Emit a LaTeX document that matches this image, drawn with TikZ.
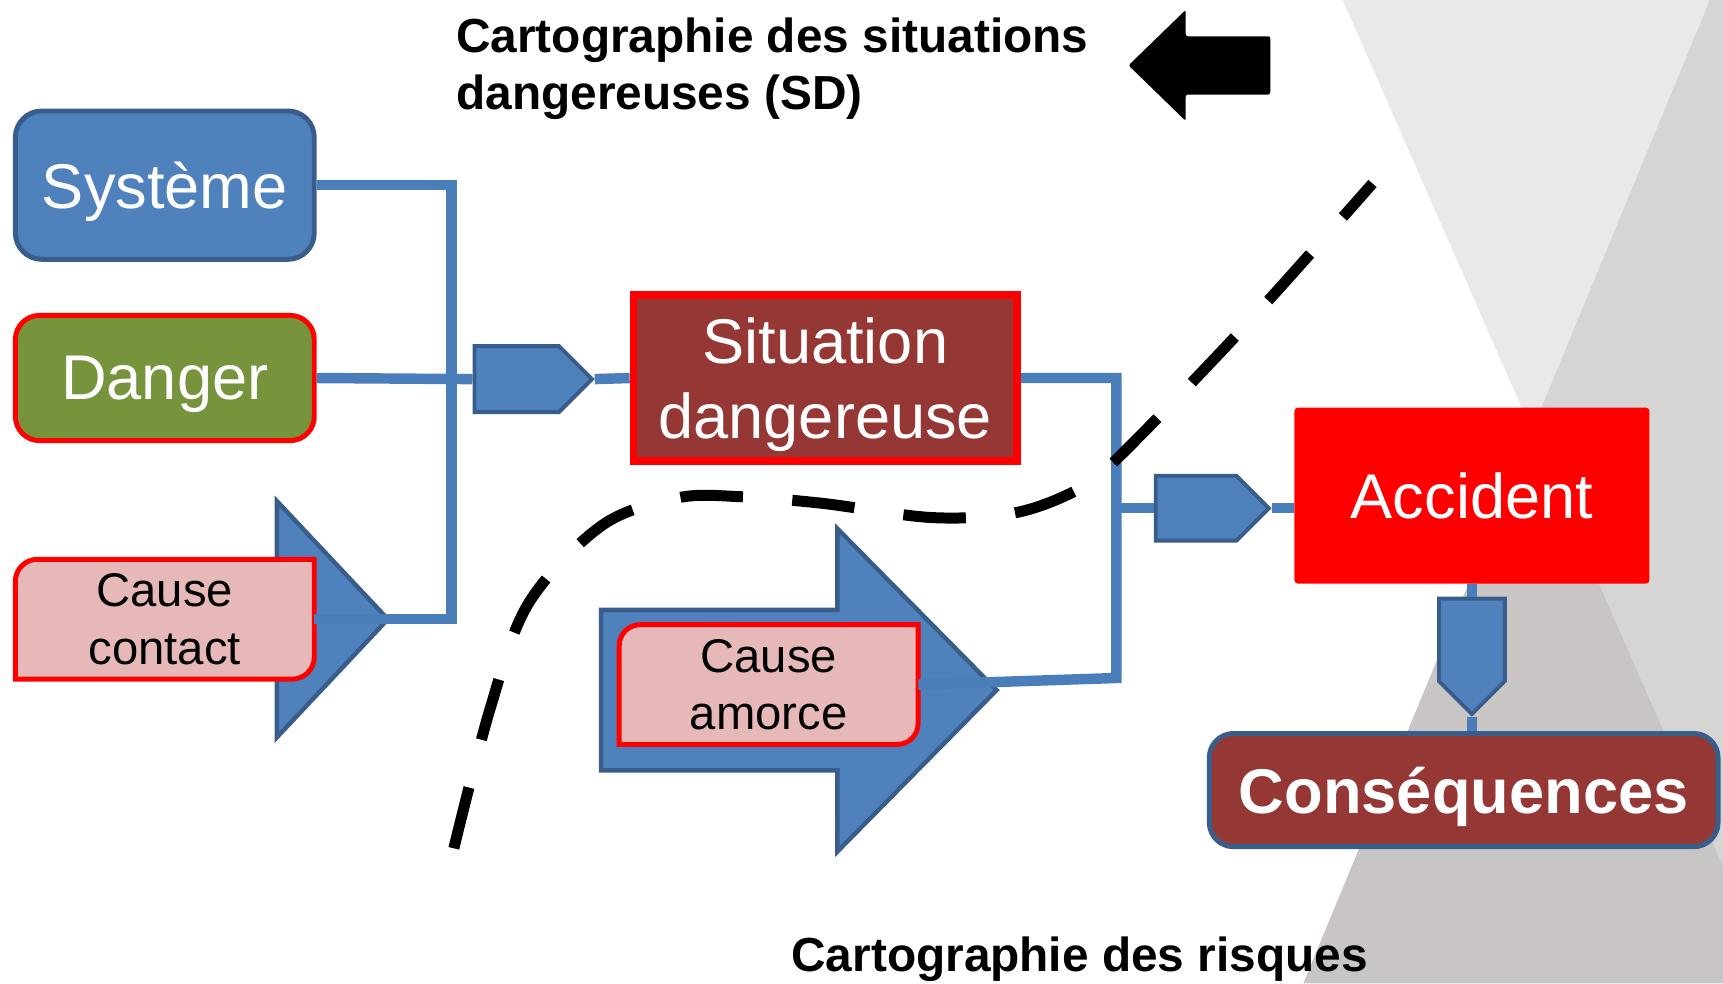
\documentclass[tikz,border=0pt]{standalone}
\usepackage{fontspec}
\setmainfont{Liberation Sans}
\usetikzlibrary{shapes.symbols}

\definecolor{boxblue}{HTML}{4F81BD}
\definecolor{edgeblue}{HTML}{385D8A}
\definecolor{linkblue}{HTML}{4A7EBB}
\definecolor{dangergreen}{HTML}{77933C}
\definecolor{causepink}{HTML}{E6B9B8}
\definecolor{sdred}{HTML}{953735}
\definecolor{greytop}{HTML}{EAE9E9}
\definecolor{greyright}{HTML}{D6D5D4}
\definecolor{greybottom}{HTML}{C9C5C5}

\begin{document}
\begin{tikzpicture}[x=1pt, y=-1pt, line join=miter]
      \tikzstyle{boxtext} = [text=white, text depth=0pt, inner sep=0, align=center, font=\fontsize{57.5}{68}\selectfont]
      \tikzstyle{sysbox} = [boxtext, rounded corners=24pt, fill=boxblue, draw=edgeblue, line width=4.5pt, minimum width=272pt, minimum height=135pt]
      \tikzstyle{dangerbox} = [boxtext, rounded corners=22pt, fill=dangergreen, draw=red, line width=4.5pt, minimum width=272pt, minimum height=114pt]
      \tikzstyle{sitbox} = [boxtext, fill=sdred, draw=red, line width=7pt, minimum width=349pt, minimum height=151pt]
      \tikzstyle{accbox} = [boxtext, rounded corners=3pt, fill=red, minimum width=323pt, minimum height=160pt]
      \tikzstyle{consbox} = [boxtext, font=\bfseries\fontsize{57.5}{68}\selectfont, rounded corners=22pt, fill=sdred, draw=edgeblue, line width=4.5pt, minimum width=463pt, minimum height=103pt]
      \tikzstyle{causetext} = [inner sep=0, align=center, font=\fontsize{43}{52}\selectfont, minimum width=272pt, minimum height=109pt]
      \tikzstyle{causeframe} = [fill=causepink, draw=red, line width=4.5pt]
      \tikzstyle{causearrow} = [fill=boxblue, draw=edgeblue, line width=4pt]
      \tikzstyle{pointbox} = [signal, signal pointer angle=90, fill=boxblue, draw=edgeblue, line width=3.5pt, inner sep=0]
      \tikzstyle{link} = [draw=linkblue, line width=9.5pt]
      \tikzstyle{frontier} = [line width=10pt, dash pattern=on 57pt off 45pt]
      \tikzstyle{maptitle} = [inner sep=0, align=left, font=\bfseries\fontsize{43.5}{52}\selectfont]

      % fond
      \fill[white] (0,0) rectangle (1568,895);
      \coordinate (xc) at (1394,392);
      \fill[greytop] (1222,0) -- (1556,0) -- (xc) -- cycle;
      \fill[greyright] (1556,0) -- (1568,0) -- (1568,788) -- (xc) -- cycle;
      \fill[greybottom] (xc) -- (1568,788) -- (1568,895) -- (1186,895) -- cycle;
      \useasboundingbox (0,0) rectangle (1568,895);

      % fleches des causes
      \draw[causearrow] (252,456) -- (353,563.5) -- (252,671) -- cycle;
      \draw[causearrow] (547,555) -- (762,555) -- (762,481) -- (907,628) -- (762,775) -- (762,701) -- (547,701) -- cycle;
      \filldraw[causeframe] (14,618) -- (14,529) arc[start angle=180, end angle=270, radius=20] -- (286,509) -- (286,598) arc[start angle=0, end angle=90, radius=20] -- cycle;
      \filldraw[causeframe] (563.5,677.5) -- (563.5,587.5) arc[start angle=180, end angle=270, radius=19] -- (835.5,568.5) -- (835.5,658.5) arc[start angle=0, end angle=90, radius=19] -- cycle;

      \node (sys) [sysbox] at (150,168.5) {Système};
      \node (dan) [dangerbox] at (150,344) {Danger};
      \node (cc) [causetext] at (150,563.5) {Cause\\contact};
      \node (sit) [sitbox] at (751,344) {Situation\\dangereuse};
      \node (ca) [causetext] at (699.5,623) {Cause\\amorce};
      \node (acc) [accbox] at (1339.5,451) {Accident};
      \node (cons) [consbox] at (1332,719) {Conséquences};

      \node (sd1) [pointbox, anchor=west, minimum width=107pt, minimum height=60pt] at (430,345) {};
      \node (sd2) [pointbox, anchor=west, minimum width=103pt, minimum height=59pt] at (1050,462.5) {};
      \node (sd3) [pointbox, anchor=north, signal to=south, minimum width=60pt, minimum height=75pt] at (1339.5,543) {};

      \coordinate (bus) at (411,0);
      \coordinate (bus2) at (1016,617);
      \draw[link] (sys.east) -- (sys.east -| bus) -- (cc.east -| bus) -- (cc.east);
      \draw[link] (dan.east) -- (sd1.west);
      \draw[link] (sd1.east) -- (sit.west);
      \draw[link] (sit.east) -| (bus2) -- (ca.east);
      \draw[link] (bus2 |- sd2.west) -- (sd2.west);
      \draw[link] (sd2.east) -- (sd2.east -| acc.west);
      \draw[link] (acc.south) -- (sd3.north);
      \draw[link] (sd3.south) -- (sd3.south |- cons.north);

      % frontiere SD / risques
      \draw[frontier] plot[smooth, tension=0.55] coordinates {(413,772) (446,645) (481,549) (548,478) (617,453) (674,452) (748,458) (848,471) (922,467) (976,448) (1013,421) (1130,300) (1249,167)};

      \fill[black, rounded corners=2pt] (1156,33) -- (1079,33) -- (1079,9) -- (1027,59.5) -- (1079,110) -- (1079,86) -- (1156,86) -- cycle;

      \node (sdmap) [maptitle, anchor=north west] at (415,16) {Cartographie des situations\\dangereuses (SD)};
      \node (riskmap) [maptitle, anchor=base west] at (720,884) {Cartographie des risques};

\end{tikzpicture}
\end{document}
